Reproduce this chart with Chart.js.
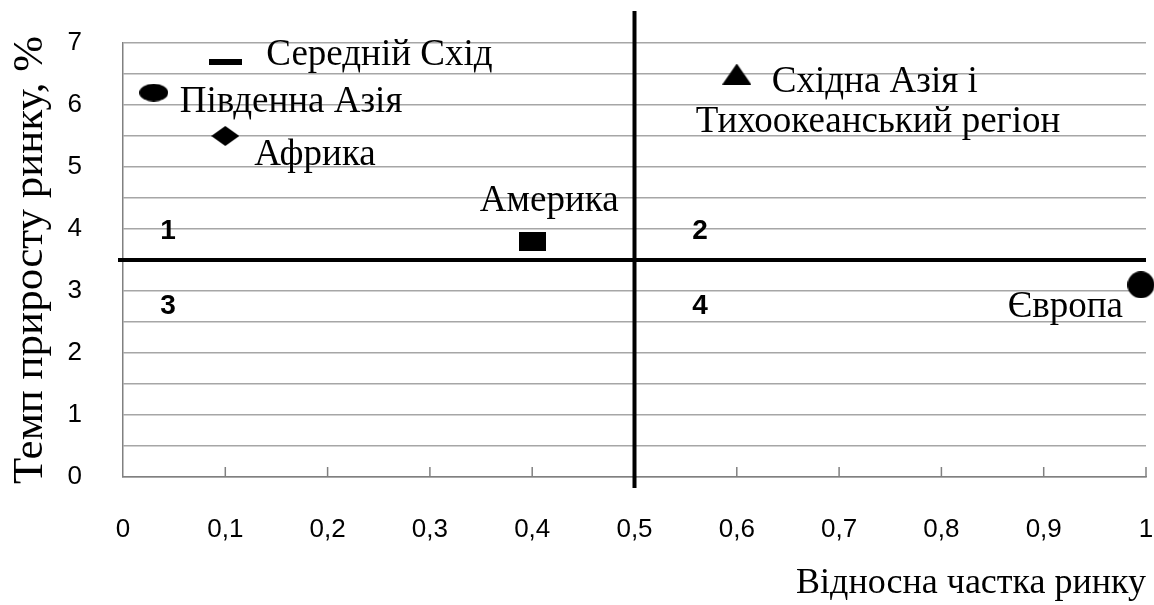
<!DOCTYPE html>
<html>
<head>
<meta charset="utf-8">
<script src="https://cdn.jsdelivr.net/npm/chart.js@4.4.0/dist/chart.umd.min.js"></script>
<style>
  html, body { margin: 0; padding: 0; background: #fff; }
  #wrap { width: 1154px; height: 605px; }
</style>
</head>
<body>
<div id="wrap"><canvas id="bcg"></canvas></div>
<script>
// дані
const regions = [['Середній Схід'], ['Південна Азія'], ['Африка'], ['Америка'], ['Східна Азія і', 'Тихоокеанський регіон'], ['Європа']];
const marketShare = [0.1, 0.03, 0.1, 0.4, 0.6, 0.995];
const growthRate = [6.7, 6.2, 5.5, 3.8, 6.5, 3.1];
const quadrantNames = ['1', '2', '3', '4'];
const yTickLabels = ['0', '1', '2', '3', '4', '5', '6', '7'];
const xTitle = 'Відносна частка ринку';
const yTitle = 'Темп приросту ринку, %';

// маркери
function marker(w, h, draw) {
    const c = document.createElement('canvas');
    c.width = w; c.height = h;
    const g = c.getContext('2d');
    g.fillStyle = '#000';
    draw(g, w, h);
    return c;
}
const markers = [
    marker(33, 6, (g, w, h) => g.fillRect(0, 0, w, h)),
    marker(29, 18, (g, w, h) => { g.beginPath(); g.ellipse(w / 2, h / 2, w / 2, h / 2, 0, 0, Math.PI * 2); g.fill(); }),
    marker(28, 20, (g, w, h) => { g.beginPath(); g.moveTo(w / 2, 0); g.lineTo(w, h / 2); g.lineTo(w / 2, h); g.lineTo(0, h / 2); g.fill(); }),
    marker(27, 19, (g, w, h) => g.fillRect(0, 0, w, h)),
    marker(29, 21, (g, w, h) => { g.beginPath(); g.moveTo(w / 2, 0); g.lineTo(w, h); g.lineTo(0, h); g.fill(); }),
    marker(27, 27, (g, w, h) => { g.beginPath(); g.arc(w / 2, h / 2, w / 2, 0, Math.PI * 2); g.fill(); })
];

// зсув підписів відносно точки: [dx, dy, вирівнювання, другий рядок]
const labelOffsets = [
    [41, -6, 'left'],
    [26, 10, 'left'],
    [29, 19, 'left'],
    [17, -40, 'center'],
    [35, 8, 'left', [-41, 48]],
    [-18, 22, 'right']
];
const quadrantPos = [[0.044, 3.97], [0.564, 3.97], [0.044, 2.76], [0.564, 2.76]];

const serif = '"Liberation Serif", "Times New Roman", serif';
const sans = '"Liberation Sans", Arial, sans-serif';

const extras = {
    id: 'extras',
    afterDatasetsDraw(chart) {
        const { ctx, scales: { x, y } } = chart;
        ctx.save();
        // дрібні засічки на осі X
        ctx.strokeStyle = '#808080';
        ctx.lineWidth = 1.5;
        x.ticks.forEach(t => {
            if (t.value === 0) return;
            const px = x.getPixelForValue(t.value);
            ctx.beginPath();
            ctx.moveTo(px, y.bottom);
            ctx.lineTo(px, y.bottom - 10);
            ctx.stroke();
        });
        // лінії поділу на квадранти
        ctx.strokeStyle = '#000';
        ctx.lineWidth = 4;
        const mx = x.getPixelForValue(0.5);
        const my = y.getPixelForValue(3.5);
        ctx.beginPath();
        ctx.moveTo(mx, 11);
        ctx.lineTo(mx, y.bottom + 11);
        ctx.moveTo(x.left - 5, my);
        ctx.lineTo(x.right, my);
        ctx.stroke();
        // номери квадрантів
        ctx.fillStyle = '#000';
        ctx.font = 'bold 28px ' + sans;
        ctx.textAlign = 'center';
        ctx.textBaseline = 'middle';
        quadrantNames.forEach((q, i) => {
            ctx.fillText(q, x.getPixelForValue(quadrantPos[i][0]), y.getPixelForValue(quadrantPos[i][1]));
        });
        // підписи регіонів
        ctx.font = '37px ' + serif;
        chart.data.datasets.forEach((ds, i) => {
            const pt = chart.getDatasetMeta(i).data[0];
            const o = labelOffsets[i];
            ctx.textAlign = o[2];
            ctx.fillText(regions[i][0], pt.x + o[0], pt.y + o[1]);
            if (regions[i][1]) {
                ctx.textAlign = 'left';
                ctx.fillText(regions[i][1], pt.x + o[3][0], pt.y + o[3][1]);
            }
        });
        ctx.restore();
    }
};

new Chart(document.getElementById('bcg'), {
    type: 'scatter',
    data: {
        datasets: regions.map((r, i) => ({
            label: r.join(' '),
            data: [{ x: marketShare[i], y: growthRate[i] }],
            pointStyle: markers[i],
            clip: false
        }))
    },
    options: {
        responsive: true,
        maintainAspectRatio: false,
        animation: false,
        layout: { padding: { top: 43, right: 8, left: 0, bottom: 0 } },
        plugins: {
            legend: { display: false },
            tooltip: { enabled: false }
        },
        scales: {
            x: {
                type: 'linear',
                min: 0,
                max: 1,
                afterFit: s => { s.height = 128; s.paddingLeft = 0; s.paddingRight = 0; },
                ticks: {
                    stepSize: 0.1,
                    autoSkip: false,
                    maxRotation: 0,
                    padding: 37,
                    color: '#000',
                    font: { family: sans, size: 26 },
                    callback: v => String(Math.round(v * 10) / 10).replace('.', ',')
                },
                grid: { drawOnChartArea: false, drawTicks: false },
                border: { display: true, color: '#808080', width: 1.5 },
                title: {
                    display: true,
                    text: xTitle,
                    align: 'end',
                    color: '#000',
                    font: { family: serif, size: 36 },
                    padding: { top: 0, bottom: 0 }
                }
            },
            y: {
                type: 'linear',
                min: 0,
                max: 7,
                afterFit: s => { s.width = 123; s.paddingTop = 0; s.paddingBottom = 0; },
                ticks: {
                    stepSize: 0.5,
                    autoSkip: false,
                    padding: 41,
                    color: '#000',
                    font: { family: sans, size: 26 },
                    callback: v => Number.isInteger(v) ? yTickLabels[v] : ''
                },
                grid: { color: '#a6a6a6', lineWidth: 1.5, drawTicks: false },
                border: { display: true, color: '#808080', width: 1.5 },
                title: {
                    display: true,
                    text: yTitle,
                    color: '#000',
                    font: { family: serif, size: 43 },
                    padding: { top: 5, bottom: 0 }
                }
            }
        }
    },
    plugins: [extras]
});
</script>
</body>
</html>
